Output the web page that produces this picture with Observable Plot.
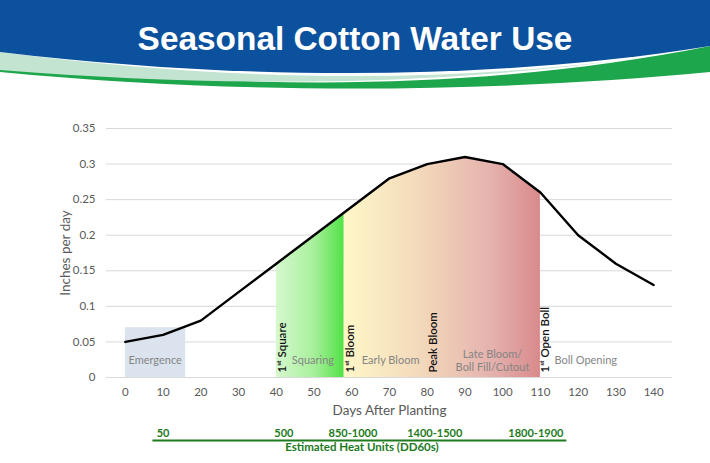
<!DOCTYPE html>
<html><head><meta charset="utf-8">
<script src="https://cdn.jsdelivr.net/npm/d3@7"></script>
<script src="https://cdn.jsdelivr.net/npm/@observablehq/plot@0.6"></script>
<style>
body{margin:0;background:#fff;width:710px;height:463px;overflow:hidden;font-family:Lato,"DejaVu Sans",sans-serif}
#header{width:710px;height:100px}
#header svg, #chart svg, #heat svg{display:block}
</style></head><body>
<div id="header">
<svg width="710" height="100" viewBox="0 0 710 100">
  <path d="M0,60 C250,95 500,88 710,46 L710,72 C500,92 250,96 0,72 Z" fill="#1ea64c"/>
  <path d="M0,52 C250,84 450,82 640,58 C430,86 230,88 0,70 Z" fill="#c3e4d1"/>
  <path d="M0,0 H710 V46 C500,80 250,82 0,52 Z" fill="#0b519d"/>
  <text x="355" y="50" text-anchor="middle" fill="#fff" font-family="'Liberation Sans',Arial,sans-serif" font-weight="bold" font-size="33.4">Seasonal Cotton Water Use</text>
</svg>
</div>
<div id="chart"></div>
<div id="heat"></div>
<script>
// ---- data ----
const days = [0,10,20,30,40,50,60,70,80,90,100,110,120,130,140];
const inchesPerDay = [0.05,0.06,0.08,0.12,0.16,0.20,0.24,0.28,0.30,0.31,0.30,0.26,0.20,0.16,0.13];
const emergenceDays = [0,16];
const emergenceTop = 0.07;
const squaringDays = [40,50,58];
const squaringTop = [0.16,0.20,0.232];
const bloomDays = [58,60,70,80,90,100,110];
const bloomTop = [0.232,0.24,0.28,0.30,0.31,0.30,0.26];
const milestones = ["1ˢᵗ Square","1ˢᵗ Bloom","Peak Bloom","1ˢᵗ Open Boll"];
const milestoneDays = [41.6,59.7,81.7,111.4];
const stages = ["Emergence","Squaring","Early Bloom","Late Bloom/\nBoll Fill/Cutout","Boll Opening"];
const stageDays = [7.9,49.7,70.3,97.3,122];
const heatUnits = ["50","500","850-1000","1400-1500","1800-1900"];
const heatDays = [10,42,60.3,82,108.8];
const heatSpan = [7.3,117];
const xTicks = [0,10,20,30,40,50,60,70,80,90,100,110,120,130,140];
const yTicks = [0,0.05,0.1,0.15,0.2,0.25,0.3,0.35];

const waterUse = days.map((d,i)=>({day:d, ipd:inchesPerDay[i]}));
const squaring = squaringDays.map((d,i)=>({day:d, ipd:squaringTop[i]}));
const bloom = bloomDays.map((d,i)=>({day:d, ipd:bloomTop[i]}));

const defs = () => {
  const g = d3.create("svg:defs");
  const add = (id, stops) => {
    const lg = g.append("linearGradient").attr("id", id).attr("x1","0").attr("x2","1").attr("y1","0").attr("y2","0");
    stops.forEach(([o,c]) => lg.append("stop").attr("offset", o).attr("stop-color", c));
  };
  add("gSquare", [[0,"#d6f8ce"],[0.55,"#a9f09d"],[1,"#52e246"]]);
  add("gBloom", [[0,"#fff7c8"],[0.4,"#f2d8ba"],[0.75,"#e5b2ae"],[1,"#d88a8b"]]);
  return g.node();
};

const font = "Lato, 'DejaVu Sans', sans-serif";
const chart = Plot.plot({
  width: 710, height: 322,
  marginTop: 28, marginBottom: 45, marginLeft: 106, marginRight: 38,
  style: {fontFamily: font, fontSize: "11.5px", background: "transparent"},
  x: {domain: [-5,145]},
  y: {domain: [0,0.35]},
  marks: [
    defs,
    Plot.gridY(yTicks, {stroke: "#d9d9d9", strokeOpacity: 1}),
    Plot.rect([0], {x1: () => emergenceDays[0], x2: () => emergenceDays[1], y1: 0, y2: () => emergenceTop, fill: "#dbe3ef"}),
    Plot.areaY(squaring, {x: "day", y: "ipd", fill: "url(#gSquare)"}),
    Plot.areaY(bloom, {x: "day", y: "ipd", fill: "url(#gBloom)"}),
    Plot.line(waterUse, {x: "day", y: "ipd", stroke: "#000", strokeWidth: 2.4}),
    Plot.axisX({ticks: xTicks, tickSize: 0, tickPadding: 10, label: null, color: "#595959", fontSize: 11.5}),
    Plot.axisY({ticks: yTicks, tickSize: 0, tickPadding: 11, label: null, tickFormat: d => String(d), color: "#595959", fontSize: 11.5}),
    Plot.text(stages, {x: (d,i) => stageDays[i], y: 0, dy: -17, fill: "#858585", fontSize: 11, lineHeight: 1.12}),
    Plot.text(milestones, {x: (d,i) => milestoneDays[i], y: 0, dy: -5, rotate: -90, textAnchor: "start", fill: "#111", fontSize: 11.5, fontWeight: 600}),
    Plot.text(["Inches per day"], {frameAnchor: "left", dx: -41, rotate: -90, textAnchor: "middle", lineAnchor: "middle", fill: "#595959", fontSize: 13.5}),
    Plot.text(["Days After Planting"], {x: () => 70, frameAnchor: "bottom", dy: 33, textAnchor: "middle", lineAnchor: "middle", fill: "#595959", fontSize: 13.5})
  ]
});
document.getElementById("chart").appendChild(chart);

const heat = Plot.plot({
  width: 710, height: 41,
  marginTop: 0, marginBottom: 0, marginLeft: 106, marginRight: 38,
  style: {fontFamily: font, background: "transparent"},
  x: {domain: [-5,145], axis: null},
  y: {type: "point", domain: ["units","line","caption"], range: [10,25], padding: 0, axis: null},
  marks: [
    Plot.text(heatUnits, {x: (d,i) => heatDays[i], y: () => "units", lineAnchor: "middle", fill: "#1d7a1d", fontWeight: "bold", fontSize: 11}),
    Plot.ruleY(["line"], {x1: heatSpan[0], x2: heatSpan[1], stroke: "#1d7a1d", strokeWidth: 2}),
    Plot.text(["Estimated Heat Units (DD60s)"], {x: () => 62.7, y: () => "caption", lineAnchor: "middle", fill: "#1d7a1d", fontWeight: "bold", fontSize: 11.5})
  ]
});
document.getElementById("heat").appendChild(heat);
</script>
</body></html>
